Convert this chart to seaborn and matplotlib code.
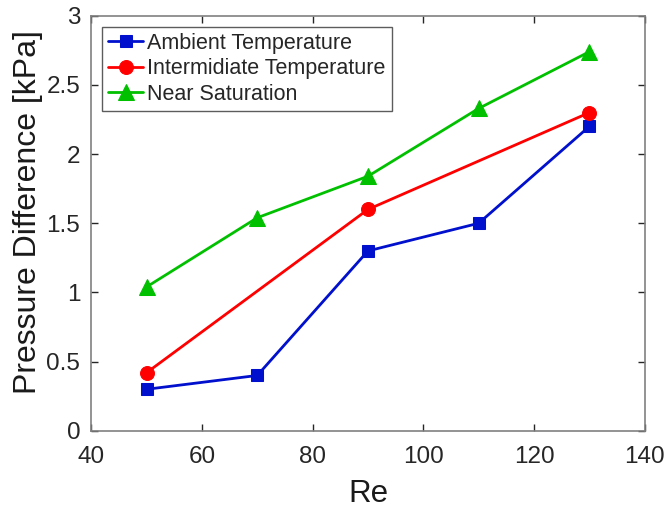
import matplotlib
matplotlib.use("Agg")
import matplotlib.pyplot as plt
import seaborn as sns
import pandas as pd

re_ambient = [50, 70, 90, 110, 130]
dp_ambient = [0.30, 0.40, 1.30, 1.50, 2.20]
re_inter = [50, 90, 130]
dp_inter = [0.42, 1.60, 2.30]
re_sat = [50, 70, 90, 110, 130]
dp_sat = [1.04, 1.54, 1.84, 2.33, 2.74]
series_names = ["Ambient Temperature", "Intermidiate Temperature", "Near Saturation"]

sns.set_style("white")
plt.rcParams['font.family'] = ['Liberation Sans', 'DejaVu Sans']

df = pd.concat([
    pd.DataFrame({"Re": re_ambient, "dp": dp_ambient, "series": series_names[0]}),
    pd.DataFrame({"Re": re_inter, "dp": dp_inter, "series": series_names[1]}),
    pd.DataFrame({"Re": re_sat, "dp": dp_sat, "series": series_names[2]}),
])

fig = plt.figure(figsize=(6.66, 5.08), dpi=100)
ax = fig.add_axes([0.137, 0.152, 0.831, 0.817])
palette = {series_names[0]: "#0010CC", series_names[1]: "#FF0000", series_names[2]: "#00C000"}
markers = {series_names[0]: "s", series_names[1]: "o", series_names[2]: "^"}
sizes_map = {series_names[0]: 8, series_names[1]: 10, series_names[2]: 12}
for name in series_names:
    sub = df[df.series == name]
    sns.lineplot(data=sub, x="Re", y="dp", ax=ax, color=palette[name], marker=markers[name],
                 markersize=sizes_map[name], markeredgecolor=palette[name], linewidth=2, label=name)

ax.set_xlim(40, 140)
ax.set_ylim(0, 3)
ax.set_xticks([40, 60, 80, 100, 120, 140])
ax.set_yticks([0, 0.5, 1, 1.5, 2, 2.5, 3])
ax.set_yticklabels(["0", "0.5", "1", "1.5", "2", "2.5", "3"])
ax.tick_params(direction="in", length=5, labelsize=17.5, colors="#262626", top=True, right=True,
               bottom=True, left=True, labelcolor="#262626", width=1)
ax.tick_params(axis="x", pad=11)
ax.tick_params(axis="y", pad=8)
for s in ax.spines.values():
    s.set_color("#808080")
    s.set_linewidth(1.2)
ax.set_xlabel("Re", fontsize=22.5, color="#1a1a1a", labelpad=8)
ax.set_ylabel("Pressure Difference [kPa]", fontsize=23, color="#1a1a1a")
ax.yaxis.set_label_coords(-0.088, 0.528)

leg = ax.legend(loc="upper left", fontsize=15.5, frameon=True, fancybox=False, handlelength=1.6,
                handletextpad=0.2, borderpad=0.3, labelspacing=0.2, bbox_to_anchor=(0.0, 1.0),
                borderaxespad=0.5)
leg.get_frame().set_edgecolor("#333333")
leg.get_frame().set_linewidth(1.0)

fig.savefig("out.png", dpi=100)
